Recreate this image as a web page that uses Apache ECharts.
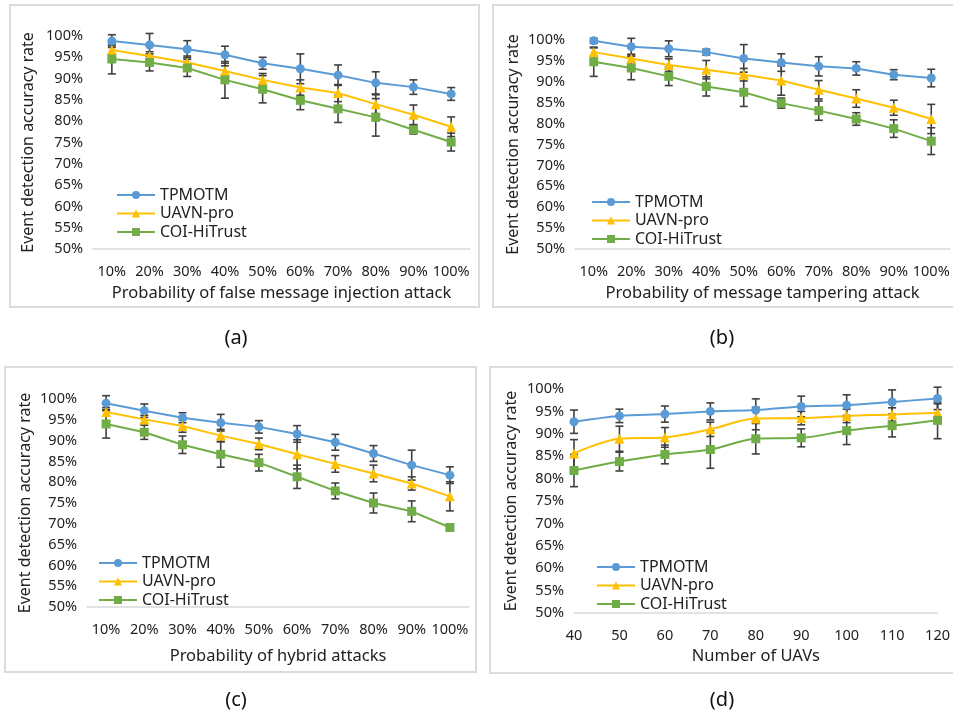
<!DOCTYPE html>
<html>
<head>
<meta charset="utf-8">
<script src="https://cdn.jsdelivr.net/npm/echarts@6/dist/echarts.min.js"></script>
<style>
  html, body { margin: 0; padding: 0; background: #fff; }
  #container { width: 953px; height: 717px; }
</style>
</head>
<body>
<div id="container"></div>
<script>
// categories
const pctCats = ['10%', '20%', '30%', '40%', '50%', '60%', '70%', '80%', '90%', '100%'];
const uavCats = ['40', '50', '60', '70', '80', '90', '100', '110', '120'];
const seriesNames = ['TPMOTM', 'UAVN-pro', 'COI-HiTrust'];

// (a) false message injection attack
const aTp   = [98.8, 97.9, 96.9, 95.6, 93.6, 92.3, 90.8, 89.0, 88.0, 86.4];
const aUa   = [96.7, 95.3, 93.8, 91.8, 89.7, 87.9, 86.6, 84.0, 81.5, 78.7];
const aCo   = [94.6, 93.8, 92.5, 89.7, 87.5, 84.9, 82.9, 80.9, 78.0, 75.1];
const aTpE  = [1.5, 2.7, 2.0, 2.0, 1.4, 3.5, 2.4, 2.6, 1.7, 1.5];
const aUaE  = [1.0, 1.0, 1.5, 1.2, 1.5, 1.8, 2.0, 2.2, 2.3, 2.3];
const aCoE  = [3.5, 2.0, 2.0, 4.3, 3.2, 2.2, 3.2, 4.4, 1.0, 2.1];

// (b) message tampering attack
const bTp   = [99.8, 98.4, 97.9, 97.1, 95.6, 94.6, 93.7, 93.2, 91.7, 90.9];
const bUa   = [97.1, 95.6, 94.0, 92.9, 91.7, 90.3, 88.1, 86.0, 83.8, 81.1];
const bCo   = [94.8, 93.3, 91.3, 88.9, 87.5, 84.9, 83.1, 81.1, 78.8, 75.8];
const bTpE  = [0.6, 2.0, 1.9, 0.7, 3.3, 2.1, 2.3, 1.6, 1.2, 2.1];
const bUaE  = [1.0, 1.0, 1.5, 2.2, 1.5, 3.5, 2.2, 2.1, 1.8, 3.5];
const bCoE  = [3.5, 2.8, 2.2, 2.3, 3.4, 1.2, 2.3, 1.5, 2.1, 3.2];

// (c) hybrid attacks
const cTp   = [99.0, 97.2, 95.5, 94.3, 93.3, 91.6, 89.6, 86.9, 84.1, 81.7];
const cUa   = [96.9, 95.1, 93.5, 91.2, 89.2, 86.7, 84.4, 82.1, 79.7, 76.6];
const cCo   = [94.0, 92.0, 89.0, 86.7, 84.7, 81.3, 77.9, 75.0, 73.0, 69.1];
const cTpE  = [1.8, 1.6, 1.2, 2.0, 1.5, 2.0, 1.9, 1.9, 3.6, 2.0];
const cUaE  = [1.0, 1.0, 1.5, 1.5, 1.4, 3.5, 2.0, 2.0, 1.6, 3.5];
const cCoE  = [3.4, 1.7, 2.1, 3.1, 2.0, 2.8, 1.9, 2.4, 2.5, 0.8];

// (d) number of UAVs
const dTp   = [92.7, 94.0, 94.4, 95.0, 95.3, 96.1, 96.4, 97.1, 97.9];
const dUa   = [85.6, 88.9, 89.2, 91.0, 93.4, 93.5, 94.0, 94.3, 94.7];
const dCo   = [81.8, 83.8, 85.4, 86.5, 88.9, 89.1, 90.7, 91.8, 93.0];
const dTpE  = [2.6, 1.5, 1.8, 1.9, 2.5, 2.3, 2.3, 2.7, 2.5];
const dUaE  = [3.1, 2.8, 2.2, 1.6, 2.5, 1.5, 1.5, 1.5, 2.0];
const dCoE  = [3.6, 2.1, 2.1, 4.2, 3.4, 2.0, 3.1, 2.5, 4.1];

const colors = ['#5B9BD5', '#FFC000', '#70AD47'];
const symbols = ['circle', 'triangle', 'rect'];
const fontFam = '"Noto Sans", "Open Sans", sans-serif';
const txt = '#222';

const panels = [
    { cats: pctCats, vals: [aTp, aUa, aCo], errs: [aTpE, aUaE, aCoE], smooth: false, gap: true,
      name: 'Probability of false message injection attack', cap: '(a)', xGap: 36, yGap: 57,
      grid: { left: 93, top: 36, width: 377, height: 213 },
      legend: { left: 116, top: 187 }, box: [10, 5, 469, 302], capPos: [236, 338] },
    { cats: pctCats, vals: [bTp, bUa, bCo], errs: [bTpE, bUaE, bCoE], smooth: false, gap: true,
      name: 'Probability of message tampering attack', cap: '(b)', xGap: 36, yGap: 54,
      grid: { left: 575, top: 40, width: 375, height: 209 },
      legend: { left: 591, top: 194 }, box: [493, 5, 470, 302], capPos: [722, 338] },
    { cats: pctCats, vals: [cTp, cUa, cCo], errs: [cTpE, cUaE, cCoE], smooth: false, gap: true,
      name: 'Probability of hybrid attacks', cap: '(c)', xGap: 41, yGap: 54,
      grid: { left: 87, top: 399, width: 382, height: 208 },
      legend: { left: 98, top: 555 }, box: [5, 367, 471, 305], capPos: [236, 700] },
    { cats: uavCats, vals: [dTp, dUa, dCo], errs: [dTpE, dUaE, dCoE], smooth: true, gap: false,
      name: 'Number of UAVs', cap: '(d)', xGap: 35, yGap: 55,
      grid: { left: 574, top: 389, width: 366, height: 224 },
      legend: { left: 596, top: 559 }, box: [490, 367, 470, 306], capPos: [722, 700] }
];

const grids = [], xAxes = [], yAxes = [], series = [], legends = [], graphics = [];

panels.forEach(function (p, pi) {
    grids.push(Object.assign({ containLabel: false }, p.grid));
    xAxes.push({
        type: 'category', gridIndex: pi, data: p.cats, boundaryGap: p.gap,
        name: p.name, nameLocation: 'middle', nameGap: p.xGap,
        nameTextStyle: { fontSize: 16.5, color: txt, fontFamily: fontFam },
        axisLine: { lineStyle: { color: '#d9d9d9', width: 1.5 } },
        axisTick: { show: false },
        axisLabel: { fontSize: 14.5, color: txt, fontFamily: fontFam, margin: 15, interval: 0 }
    });
    yAxes.push({
        type: 'value', gridIndex: pi, min: 50, max: 100, interval: 5,
        name: 'Event detection accuracy rate', nameLocation: 'middle', nameGap: p.yGap,
        nameTextStyle: { fontSize: 16, color: txt, fontFamily: fontFam },
        axisLine: { show: false }, axisTick: { show: false }, splitLine: { show: false },
        axisLabel: { fontSize: 14.5, color: txt, fontFamily: fontFam, margin: 10,
                     formatter: '{value}%' }
    });
    legends.push({
        orient: 'vertical', left: p.legend.left, top: p.legend.top,
        itemWidth: 38, itemHeight: 10, itemGap: 2.5, padding: 0,
        data: seriesNames,
        textStyle: { fontSize: 16, color: txt, fontFamily: fontFam, padding: [0, 0, 0, 0] }
    });

    seriesNames.forEach(function (sn, si) {
        const vals = p.vals[si], errs = p.errs[si];
        // error bars first so markers sit on top
        series.push({
            type: 'custom', xAxisIndex: pi, yAxisIndex: pi, silent: true, z: 3,
            data: vals.map(function (v, i) { return [i, v - errs[i], v + errs[i]]; }),
            renderItem: function (params, api) {
                const lo = api.coord([api.value(0), api.value(1)]);
                const hi = api.coord([api.value(0), api.value(2)]);
                const hw = 4;
                const st = { stroke: '#404040', lineWidth: 1.6 };
                return {
                    type: 'group',
                    children: [
                        { type: 'line', shape: { x1: hi[0], y1: hi[1], x2: lo[0], y2: lo[1] }, style: st },
                        { type: 'line', shape: { x1: hi[0] - hw, y1: hi[1], x2: hi[0] + hw, y2: hi[1] }, style: st },
                        { type: 'line', shape: { x1: lo[0] - hw, y1: lo[1], x2: lo[0] + hw, y2: lo[1] }, style: st }
                    ]
                };
            }
        });
        series.push({
            name: sn, type: 'line', xAxisIndex: pi, yAxisIndex: pi, z: 5,
            data: vals, smooth: p.smooth ? 0.35 : false,
            symbol: symbols[si], symbolSize: si === 1 ? 10 : 9, showSymbol: true,
            itemStyle: { color: colors[si] },
            lineStyle: { color: colors[si], width: 2 }
        });
    });

    graphics.push({
        type: 'rect', shape: { x: p.box[0], y: p.box[1], width: p.box[2], height: p.box[3] },
        style: { fill: 'none', stroke: '#dcdcdc', lineWidth: 2 }, z: -1
    });
    graphics.push({
        type: 'text', x: p.capPos[0], y: p.capPos[1],
        style: { text: p.cap, fontSize: 20, fill: '#111', fontFamily: fontFam,
                 textAlign: 'center', textVerticalAlign: 'middle' }
    });
});

const chrt = echarts.init(document.getElementById('container'));
chrt.setOption({
    animation: false,
    color: colors,
    grid: grids,
    xAxis: xAxes,
    yAxis: yAxes,
    legend: legends,
    series: series,
    graphic: graphics
});
</script>
</body>
</html>
